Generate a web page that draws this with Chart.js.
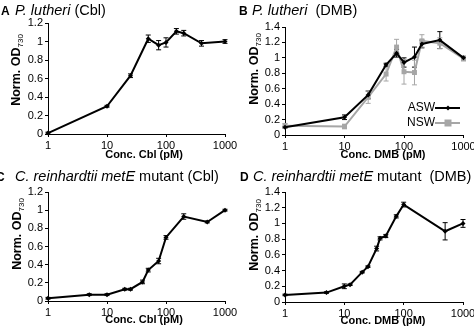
<!DOCTYPE html>
<html>
<head>
<meta charset="utf-8">
<script src="https://cdn.jsdelivr.net/npm/chart.js@4.4.1/dist/chart.umd.min.js"></script>
<style>
  body { margin: 0; width: 474px; height: 329px; overflow: hidden; position: relative; background: #fff;
         font-family: "Liberation Sans", Arial, sans-serif; color: #000; }
  canvas { position: absolute; }
  .tag { position: absolute; font-size: 12px; font-weight: bold; line-height: 1; }
  .title { position: absolute; font-size: 14.5px; line-height: 1; white-space: pre; }
  .xlab { position: absolute; font-size: 11px; font-weight: bold; transform: translate(-50%, -50%); white-space: nowrap; }
  .ylab { position: absolute; font-size: 12.5px; font-weight: bold; transform: translate(-50%, -50%) rotate(-90deg); white-space: nowrap; }
  .ylab sub { font-size: 8px; font-weight: normal; }
</style>
</head>
<body>
<canvas id="chartA" width="262" height="165" style="left:0;top:0"></canvas>
<canvas id="chartB" width="262" height="165" style="left:237px;top:0"></canvas>
<canvas id="chartC" width="262" height="164" style="left:0;top:165px"></canvas>
<canvas id="chartD" width="262" height="164" style="left:237px;top:165px"></canvas>

<div class="tag" style="left:1px;top:5px">A</div>
<div class="title" style="left:15px;top:3px"><i>P. lutheri</i> (Cbl)</div>
<div class="tag" style="left:239px;top:5px">B</div>
<div class="title" style="left:252px;top:3px"><i>P. lutheri</i>  (DMB)</div>
<div class="tag" style="left:-4px;top:171px">C</div>
<div class="title" style="left:15px;top:169px"><i>C. reinhardtii metE</i> mutant (Cbl)</div>
<div class="tag" style="left:240px;top:171px">D</div>
<div class="title" style="left:253px;top:169px"><i>C. reinhardtii metE</i> mutant  (DMB)</div>

<div class="xlab" style="left:144px;top:154px">Conc. Cbl (pM)</div>
<div class="xlab" style="left:383px;top:154px">Conc. DMB (pM)</div>
<div class="xlab" style="left:144px;top:319px">Conc. Cbl (pM)</div>
<div class="xlab" style="left:383px;top:320px">Conc. DMB (pM)</div>

<div class="ylab" style="left:17px;top:70px">Norm. OD<sub>730</sub></div>
<div class="ylab" style="left:255px;top:69px">Norm. OD<sub>730</sub></div>
<div class="ylab" style="left:18px;top:234px">Norm. OD<sub>730</sub></div>
<div class="ylab" style="left:255px;top:235px">Norm. OD<sub>730</sub></div>

<script>
// x tick labels shared by all panels (log axis, one per decade)
const decades = [1, 10, 100, 1000];

// A: P. lutheri, Cbl
const concA = [1, 10, 25, 50, 75, 100, 150, 200, 400, 1000];
const odA = [0.01, 0.30, 0.63, 1.03, 0.96, 0.99, 1.11, 1.09, 0.98, 1.00];
const errA = [0.01, 0.01, 0.02, 0.04, 0.05, 0.05, 0.03, 0.03, 0.03, 0.02];

// B: P. lutheri, DMB, artificial (ASW) vs natural (NSW) seawater
const concB = [1, 10, 25, 50, 75, 100, 150, 200, 400, 1000];
const odAsw = [0.10, 0.23, 0.52, 0.91, 1.06, 0.94, 1.01, 1.18, 1.23, 1.00];
const errAsw = [0.01, 0.03, 0.05, 0.02, 0.05, 0.06, 0.13, 0.05, 0.11, 0.02];
const odNsw = [0.12, 0.11, 0.49, 0.79, 1.14, 0.82, 0.81, 1.22, 1.19, 0.99];
const errNsw = [0.03, 0.03, 0.08, 0.09, 0.10, 0.16, 0.16, 0.08, 0.07, 0.03];

// C: C. reinhardtii metE, Cbl
const concC = [1, 5, 10, 20, 25, 40, 50, 75, 100, 200, 500, 1000];
const odC = [0.03, 0.07, 0.07, 0.13, 0.13, 0.21, 0.34, 0.44, 0.70, 0.93, 0.87, 1.00];
const errC = [0.01, 0.01, 0.01, 0.01, 0.01, 0.02, 0.02, 0.03, 0.02, 0.03, 0.01, 0.01];

// D: C. reinhardtii metE, DMB
const concD = [1, 5, 10, 12.5, 20, 25, 35, 40, 50, 75, 100, 500, 1000];
const odD = [0.09, 0.12, 0.20, 0.22, 0.38, 0.45, 0.68, 0.81, 0.84, 1.09, 1.24, 0.90, 1.00];
const errD = [0.01, 0.01, 0.03, 0.01, 0.01, 0.01, 0.03, 0.02, 0.02, 0.02, 0.03, 0.11, 0.05];

const fontFamily = '"Liberation Sans", Arial, sans-serif';
const grey = '#a6a6a6';

const tickStyle = { color: '#000', font: { family: fontFamily, size: 11 } };
const axisGrid = { drawOnChartArea: false, drawTicks: true, tickLength: 3, color: '#000', lineWidth: 1 };
const axisBorder = { display: true, color: '#000', width: 1 };

const toPoints = (xs, ys) => xs.map((x, i) => ({ x, y: ys[i] }));

function series(label, xs, ys, errs, color, style, radius) {
    return {
        label,
        data: toPoints(xs, ys),
        errors: errs,
        borderColor: color,
        borderWidth: 2,
        tension: 0,
        pointStyle: style,
        pointRadius: radius,
        pointBackgroundColor: color,
        pointBorderWidth: 0,
        clip: false
    };
}

// vertical error bars with small caps, drawn under the lines
const errorBars = {
    id: 'errorBars',
    beforeDatasetsDraw(chart) {
        const ctx = chart.ctx;
        const yScale = chart.scales.y;
        ctx.save();
        ctx.lineWidth = 1;
        chart.data.datasets.forEach((ds, i) => {
            const meta = chart.getDatasetMeta(i);
            ctx.strokeStyle = ds.borderColor;
            meta.data.forEach((pt, j) => {
                const v = ds.data[j].y;
                const e = ds.errors[j];
                const top = yScale.getPixelForValue(v + e);
                const bot = yScale.getPixelForValue(v - e);
                ctx.beginPath();
                ctx.moveTo(pt.x, top); ctx.lineTo(pt.x, bot);
                ctx.moveTo(pt.x - 2.5, top); ctx.lineTo(pt.x + 2.5, top);
                ctx.moveTo(pt.x - 2.5, bot); ctx.lineTo(pt.x + 2.5, bot);
                ctx.stroke();
            });
        });
        ctx.restore();
    }
};

// legend sitting inside panel B, lower right
const insetLegend = {
    id: 'insetLegend',
    afterDraw(chart) {
        const ctx = chart.ctx;
        ctx.save();
        ctx.font = '12px ' + fontFamily;
        ctx.textAlign = 'right';
        ctx.textBaseline = 'middle';
        chart.data.datasets.forEach((ds, i) => {
            const y = 108 + i * 15;
            ctx.fillStyle = '#000';
            ctx.fillText(ds.label, 198, y);
            ctx.strokeStyle = ds.borderColor;
            ctx.lineWidth = 2;
            ctx.beginPath(); ctx.moveTo(198, y); ctx.lineTo(223, y); ctx.stroke();
            ctx.fillStyle = ds.borderColor;
            const r = ds.pointRadius;
            ctx.beginPath();
            if (ds.pointStyle === 'rect') {
                ctx.rect(211 - r, y - r, 2 * r, 2 * r);
            } else {
                ctx.moveTo(211, y - r); ctx.lineTo(211 + r, y); ctx.lineTo(211, y + r); ctx.lineTo(211 - r, y);
            }
            ctx.fill();
        });
        ctx.restore();
    }
};

// box = plot area inside the canvas
function makeChart(id, box, yMax, datasets, extra) {
    const canvas = document.getElementById(id);
    return new Chart(canvas, {
        type: 'line',
        data: { datasets },
        options: {
            responsive: false,
            animation: false,
            events: [],
            layout: { padding: { left: 0, top: box.top, right: canvas.width - box.right, bottom: 0 } },
            plugins: { legend: { display: false }, tooltip: { enabled: false } },
            scales: {
                x: {
                    type: 'logarithmic',
                    min: 1,
                    max: 1000,
                    afterBuildTicks: s => { s.ticks = decades.map(v => ({ value: v })); },
                    afterFit: s => { s.height = canvas.height - box.bottom; s.paddingLeft = 0; s.paddingRight = 0; },
                    ticks: { ...tickStyle, callback: v => String(v), autoSkip: false, maxRotation: 0, minRotation: 0, padding: 2 },
                    grid: axisGrid,
                    border: axisBorder
                },
                y: {
                    min: 0,
                    max: yMax,
                    afterFit: s => { s.width = box.left; s.paddingTop = 0; s.paddingBottom = 0; },
                    ticks: { ...tickStyle, stepSize: 0.2, autoSkip: false, padding: 2, callback: v => String(Number(v.toFixed(1))) },
                    grid: axisGrid,
                    border: axisBorder
                }
            }
        },
        plugins: [errorBars].concat(extra || [])
    });
}

makeChart('chartA', { left: 48, right: 225, top: 23, bottom: 134 }, 1.2, [
    series('Cbl', concA, odA, errA, '#000', 'rectRot', 2.5)
]);

makeChart('chartB', { left: 48, right: 226.5, top: 27, bottom: 135 }, 1.4, [
    series('ASW', concB, odAsw, errAsw, '#000', 'rectRot', 2.5),
    series('NSW', concB, odNsw, errNsw, grey, 'rect', 3.5)
], [insetLegend]);

makeChart('chartC', { left: 48, right: 225, top: 27, bottom: 136 }, 1.2, [
    series('Cbl', concC, odC, errC, '#000', 'rectRot', 2.5)
]);

makeChart('chartD', { left: 48, right: 226, top: 27, bottom: 137 }, 1.4, [
    series('DMB', concD, odD, errD, '#000', 'rectRot', 2.5)
]);
</script>
</body>
</html>
